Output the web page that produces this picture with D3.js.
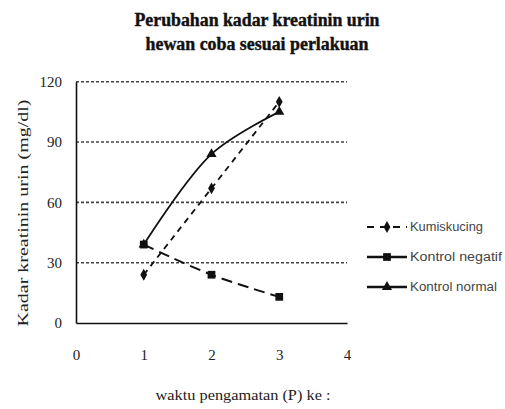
<!DOCTYPE html>
<html>
<head>
<meta charset="utf-8">
<script src="https://cdn.jsdelivr.net/npm/d3@7"></script>
<style>
  html, body { margin: 0; padding: 0; background: #fff; }
  svg { display: block; }
</style>
</head>
<body>
<svg id="chart" width="505" height="409"></svg>
<script>
// Observation periods (P) and urine creatinine levels (mg/dl) per treatment group
const periods = [1, 2, 3];
const kumiskucing = [24, 67, 110];
const kontrolNegatif = [39, 24, 13];
const kontrolNormal = [39, 84, 105];
const seriesNames = ["Kumiskucing", "Kontrol negatif", "Kontrol normal"];
const xTicks = [0, 1, 2, 3, 4];
const yTicks = [0, 30, 60, 90, 120];
const titleLines = ["Perubahan kadar kreatinin urin", "hewan coba sesuai perlakuan"];
const xTitle = "waktu pengamatan (P) ke :";
const yTitle = "Kadar kreatinin urin (mg/dl)";

const svg = d3.select("#chart");
const serif = "'Liberation Serif', 'Times New Roman', serif";
const sans = "'Liberation Sans', Arial, sans-serif";

const x = d3.scaleLinear().domain([0, 4]).range([76, 347]);
const y = d3.scaleLinear().domain([0, 120]).range([323, 81.7]);

// Title
const titleLen = [245, 223];
titleLines.forEach((t, i) => {
  svg.append("text")
    .attr("x", 257).attr("y", 26 + i * 24)
    .attr("text-anchor", "middle")
    .attr("font-family", serif).attr("font-weight", "bold").attr("font-size", 18)
    .attr("textLength", titleLen[i]).attr("lengthAdjust", "spacingAndGlyphs")
    .attr("stroke", "#111").attr("stroke-width", 0.4)
    .attr("fill", "#111")
    .text(t);
});

// Dotted horizontal gridlines
svg.append("g").selectAll("line")
  .data(yTicks.filter(d => d > 0))
  .join("line")
  .attr("x1", x(0)).attr("x2", x(4))
  .attr("y1", d => y(d)).attr("y2", d => y(d))
  .attr("stroke", "#444").attr("stroke-width", 1.6)
  .attr("stroke-dasharray", "3,2");

// Axes
const yAxis = svg.append("g")
  .attr("transform", `translate(${x(0)},0)`)
  .call(d3.axisLeft(y).tickValues(yTicks).tickFormat(d3.format("d")).tickSize(0).tickPadding(14));
const xAxis = svg.append("g")
  .attr("transform", `translate(0,${y(0)})`)
  .call(d3.axisBottom(x).tickValues(xTicks).tickFormat(d3.format("d")).tickSize(0).tickPadding(26));
[xAxis, yAxis].forEach(g => {
  g.select(".domain").attr("stroke", "#111").attr("stroke-width", 1.6);
  g.selectAll("text").attr("font-family", serif).attr("font-size", 15).attr("fill", "#222");
});

// Axis titles
svg.append("text")
  .attr("x", 243).attr("y", 400)
  .attr("text-anchor", "middle")
  .attr("font-family", serif).attr("font-size", 15)
  .attr("textLength", 175).attr("lengthAdjust", "spacingAndGlyphs")
  .attr("fill", "#222")
  .text(xTitle);
svg.append("text")
  .attr("transform", "translate(28,213) rotate(-90)")
  .attr("text-anchor", "middle")
  .attr("font-family", serif).attr("font-size", 15)
  .attr("textLength", 227).attr("lengthAdjust", "spacingAndGlyphs")
  .attr("fill", "#222")
  .text(yTitle);

// Series definitions
const series = [
  { name: seriesNames[0], values: kumiskucing, dash: "6,5", width: 1.8, marker: d3.symbolDiamond, size: 40, legendDash: "7,6", legendWidth: 2 },
  { name: seriesNames[1], values: kontrolNegatif, dash: "11,6", width: 2, marker: d3.symbolSquare, size: 60, legendDash: null, legendWidth: 2.4 },
  { name: seriesNames[2], values: kontrolNormal, dash: null, width: 1.8, marker: d3.symbolTriangle, size: 45, legendDash: null, legendWidth: 2.4 }
];

const line = d3.line()
  .x(d => x(d[0])).y(d => y(d[1]))
  .curve(d3.curveCatmullRom.alpha(0.5));

const plot = svg.append("g");
series.forEach(s => {
  const pts = periods.map((p, i) => [p, s.values[i]]);
  plot.append("path")
    .datum(pts)
    .attr("d", line)
    .attr("fill", "none")
    .attr("stroke", "#111")
    .attr("stroke-width", s.width)
    .attr("stroke-dasharray", s.dash);
  plot.selectAll(null)
    .data(pts)
    .join("path")
    .attr("transform", d => `translate(${x(d[0])},${y(d[1])})`)
    .attr("d", d3.symbol().type(s.marker).size(s.size))
    .attr("fill", "#111");
});

// Legend
const legend = svg.append("g");
const legendLen = [73, 92, 87];
series.forEach((s, i) => {
  const ly = 227 + i * 30;
  legend.append("line")
    .attr("x1", 367).attr("x2", 407)
    .attr("y1", ly).attr("y2", ly)
    .attr("stroke", "#111").attr("stroke-width", s.legendWidth)
    .attr("stroke-dasharray", s.legendDash);
  legend.append("path")
    .attr("transform", `translate(387,${ly})`)
    .attr("d", d3.symbol().type(s.marker).size(s.size))
    .attr("fill", "#111");
  legend.append("text")
    .attr("x", 410).attr("y", ly + 4)
    .attr("font-family", sans).attr("font-size", 12)
    .attr("textLength", legendLen[i]).attr("lengthAdjust", "spacingAndGlyphs")
    .attr("fill", "#444")
    .text(s.name);
});
</script>
</body>
</html>
